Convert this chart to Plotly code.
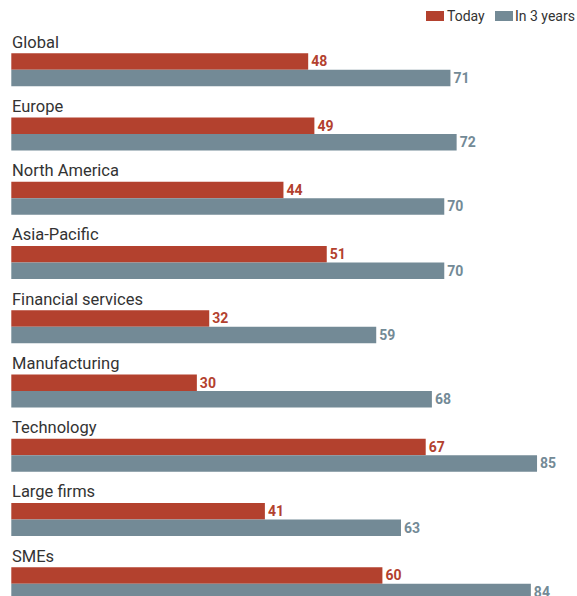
import plotly.graph_objects as go

# Survey results by region, sector and firm size (% of respondents)
categories = ["Global", "Europe", "North America", "Asia-Pacific",
              "Financial services", "Manufacturing", "Technology",
              "Large firms", "SMEs"]
today = [48, 49, 44, 51, 32, 30, 67, 41, 60]
in_3_years = [71, 72, 70, 70, 59, 68, 85, 63, 84]
series_names = ["Today", "In 3 years"]

RED = "#B3412E"
GREY = "#738A96"
TEXT = "#333333"
FONT = "Roboto"

fig = go.Figure()
for name, vals, col in [(series_names[0], today, RED),
                        (series_names[1], in_3_years, GREY)]:
    fig.add_trace(go.Bar(
        name=name, y=categories, x=vals, orientation="h",
        marker=dict(color=col, line=dict(width=0)),
        text=[str(v) for v in vals], textposition="outside",
        textfont=dict(family=FONT, size=14, color=col, weight="bold"),
        constraintext="none", cliponaxis=False, showlegend=False,
        hoverinfo="skip",
    ))

# Category labels sit above each pair of bars
for cat in categories:
    fig.add_annotation(
        x=0, xref="paper", y=cat, yref="y", xanchor="left", yanchor="middle",
        text=cat, showarrow=False, xshift=10, yshift=27.5,
        font=dict(family=FONT, size=16.5, color=TEXT),
    )

# Legend drawn as swatches plus labels in the top-right corner
legend_items = [(series_names[0], RED, 426, 444, 447),
                (series_names[1], GREY, 495, 513, 515)]
W, H = 577, 596
for name, col, x0, x1, tx in legend_items:
    fig.add_shape(type="rect", xref="paper", yref="paper",
                  x0=x0 / W, x1=x1 / W, y0=1 - 21 / H, y1=1 - 11 / H,
                  fillcolor=col, line=dict(width=0))
    fig.add_annotation(x=tx / W, xref="paper", y=1 - 16 / H, yref="paper",
                       xanchor="left", yanchor="middle", text=name,
                       showarrow=False, xshift=-2,
                       font=dict(family=FONT, size=14, color=TEXT))

fig.update_layout(
    width=577, height=596, margin=dict(l=0, r=0, t=0, b=0),
    paper_bgcolor="white", plot_bgcolor="white",
    barmode="group", bargap=0.486, bargroupgap=0,
    xaxis=dict(range=[-1.827, 91.46], visible=False, fixedrange=True),
    yaxis=dict(type="category", range=[8.192, -1.084], visible=False,
               fixedrange=True),
    font=dict(family=FONT),
)

fig.write_html("out.html")
